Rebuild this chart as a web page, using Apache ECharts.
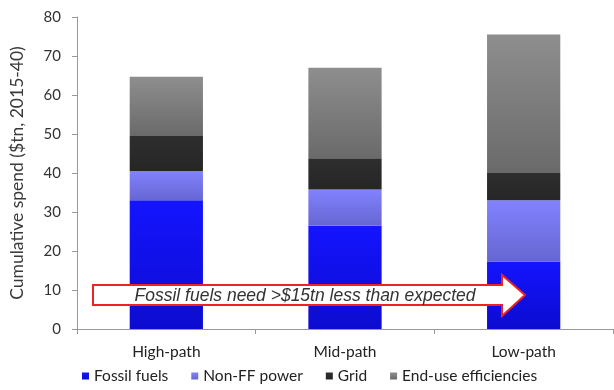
<!DOCTYPE html>
<html>
<head>
<meta charset="utf-8">
<script src="https://cdn.jsdelivr.net/npm/echarts@6/dist/echarts.min.js"></script>
<style>
html,body{margin:0;padding:0;background:#fff;}
#main{width:614px;height:390px;}
</style>
</head>
<body>
<div id="main"></div>
<script>
var paths = ['High-path','Mid-path','Low-path'];
var fossil = [33, 26.5, 17.3];
var nonFF = [7.5, 9.3, 15.7];
var grid = [9, 8, 7];
var endUse = [15.2, 23.2, 35.5];
var yTicks = [0, 10, 20, 30, 40, 50, 60, 70, 80];

function grad(top, bottom){
    return new echarts.graphic.LinearGradient(0,0,0,1,[
        {offset:0,color:top},{offset:1,color:bottom}
    ]);
}

var myChart = echarts.init(document.getElementById('main'));
var font = 'Lato, "Open Sans", sans-serif';
option = {
    animation:false,
    textStyle:{fontFamily:font},
    grid:{left:76,right:1,top:17,bottom:61},
    legend:{
        bottom:1,
        left:77,
        icon:'rect',
        itemWidth:7,
        itemHeight:7,
        itemGap:23,
        textStyle:{fontSize:15.5,color:'#222',fontFamily:font},
        data:['Fossil fuels','Non-FF power','Grid','End-use efficiencies']
    },
    xAxis:{
        type:'category',
        data:paths,
        axisLine:{lineStyle:{color:'#999'}},
        axisTick:{show:true,length:5,lineStyle:{color:'#999'}},
        axisLabel:{fontSize:15.5,color:'#222',margin:15}
    },
    yAxis:{
        type:'value',
        min:yTicks[0],
        max:yTicks[yTicks.length-1],
        interval:10,
        name:'Cumulative spend ($tn, 2015-40)',
        nameLocation:'middle',
        nameGap:51,
        nameTextStyle:{fontSize:17.5,color:'#3a3a3a'},
        axisLine:{show:true,lineStyle:{color:'#999'}},
        axisTick:{show:true,length:5,lineStyle:{color:'#999'}},
        splitLine:{show:false},
        axisLabel:{fontSize:15,color:'#333',margin:16}
    },
    series:[
        {name:'Fossil fuels',type:'bar',stack:'s',barWidth:'41%',data:fossil,
            itemStyle:{color:grad('#1414ff','#0c0cd0')}},
        {name:'Non-FF power',type:'bar',stack:'s',data:nonFF,
            itemStyle:{color:grad('#8282ff','#6666d2')}},
        {name:'Grid',type:'bar',stack:'s',data:grid,
            itemStyle:{color:grad('#2e2e2e','#262626')}},
        {name:'End-use efficiencies',type:'bar',stack:'s',data:endUse,
            itemStyle:{color:grad('#8e8e8e','#6a6a6a')}}
    ],
    graphic:[
        {type:'polygon',z:100,
            shape:{points:[[93,285],[502,285],[502,275],[525,295],[502,316],[502,305],[93,305]]},
            style:{fill:'#fff',stroke:'#ee2222',lineWidth:2}},
        {type:'text',z:101,x:305,y:296,
            style:{text:'Fossil fuels need >$15tn less than expected',fill:'#333',
                font:'italic 17.5px Arial, "Liberation Sans", sans-serif',align:'center',verticalAlign:'middle'}}
    ]
};
myChart.setOption(option);
</script>
</body>
</html>
